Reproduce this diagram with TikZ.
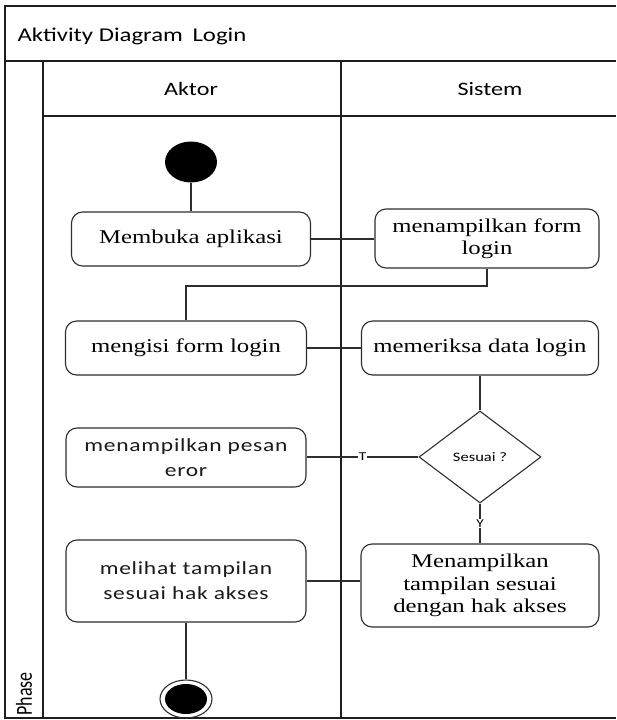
\documentclass[tikz,border=0pt]{standalone}
\usepackage{fontspec}
\setmainfont{Liberation Serif}
\newfontfamily\sansw[FakeStretch=1.27]{Carlito}
\newfontfamily\sanss[FakeStretch=1.27,LetterSpace=4]{Carlito}
\newfontfamily\serifw[FakeStretch=1.27]{Liberation Serif}
\newfontfamily\sansn{Carlito}
\usetikzlibrary{shapes.geometric}
\definecolor{linec}{HTML}{2E2E2E}
\definecolor{framec}{HTML}{1E1E1E}
\definecolor{textc}{HTML}{1A1A1A}
\begin{document}
\begin{tikzpicture}[x=1pt,y=-1pt,
  frame/.style={draw=framec, line width=1.6pt},
  act/.style={draw=linec, line width=1.1pt, rounded corners=11pt, align=center, inner sep=0pt, fill=white},
  serift/.style={font=\serifw\fontsize{19.5}{22.5}\selectfont},
  sanst/.style={font=\sanss\fontsize{18.5}{25}\selectfont, text=textc},
  conn/.style={draw=linec, line width=1.1pt},
  lbl/.style={font=\sansw\fontsize{12}{14}\selectfont, fill=white, inner sep=1pt}]
\useasboundingbox (0,0) rectangle (616,720);
% frame and lanes
\draw[frame] (616,6) -- (5,6) -- (5,718) -- (616,718);
\draw[frame] (5,61) -- (616,61);
\draw[frame] (43,116) -- (616,116);
\draw[frame] (43,61) -- (43,718);
\draw[frame] (341,61) -- (341,718);
% headers
\node[anchor=base west, font=\sansw\fontsize{19.5}{22}\selectfont] (title) at (14,41) {Aktivity Diagram\hspace{4pt} Login};
\node[font=\sansw\fontsize{19}{22}\selectfont] (aktor) at (191,89) {Aktor};
\node[font=\sansw\fontsize{19}{22}\selectfont] (sistem) at (490,89) {Sistem};
\node[rotate=90, font=\sansn\fontsize{18}{20}\selectfont] (phase) at (24,694) {\scalebox{1}[1.27]{Phase}};
% start / end
\node[ellipse, fill=black, minimum width=52pt, minimum height=41pt, inner sep=0pt] (start) at (191,162) {};
\node[ellipse, draw=linec, line width=1.1pt, minimum width=52pt, minimum height=38pt, inner sep=0pt] (end) at (186,699) {};
\node[ellipse, fill=black, minimum width=42pt, minimum height=30pt, inner sep=0pt] (endin) at (end.center) {};
% activities
\node[act, serift, minimum width=239pt, minimum height=54pt] (buka) at (191,239) {Membuka aplikasi};
\node[act, serift, minimum width=224pt, minimum height=59pt] (form) at (487,238.5) {menampilkan form\\login};
\node[act, serift, minimum width=241pt, minimum height=54pt] (isi) at (186,348) {mengisi form login};
\node[act, serift, minimum width=237pt, minimum height=54pt] (periksa) at (480,348) {memeriksa data login};
\node[diamond, draw=linec, line width=1.1pt, minimum width=122pt, minimum height=92pt, inner sep=0pt, font=\sansw\fontsize{13}{15}\selectfont] (cek) at (480,457) {Sesuai ?};
\node[act, sanst, minimum width=240pt, minimum height=59pt] (eror) at (186,457.5) {menampilkan pesan\\eror};
\node[act, sanst, minimum width=240pt, minimum height=82pt] (lihat) at (186,581) {melihat tampilan\\sesuai hak akses};
\node[act, serift, minimum width=238pt, minimum height=83pt] (tampil) at (480,585.5) {Menampilkan\\tampilan sesuai\\dengan hak akses};
% connectors
\coordinate (bend) at (186,286);
\draw[conn] (start) -- (buka);
\draw[conn] (buka.east) -- (buka.east -| form.west);
\draw[conn] (form.south) |- (bend) -- (isi.north);
\draw[conn] (isi.east) -- (isi.east -| periksa.west);
\draw[conn] (periksa.south) -- (cek.north);
\draw[conn] (cek.west) -- node[lbl] {T} (cek.west -| eror.east);
\draw[conn] (cek.south) -- node[lbl] {Y} (tampil.north);
\draw[conn] (lihat.east) -- (lihat.east -| tampil.west);
\draw[conn] (lihat.south) -- (end.north);
\end{tikzpicture}
\end{document}
